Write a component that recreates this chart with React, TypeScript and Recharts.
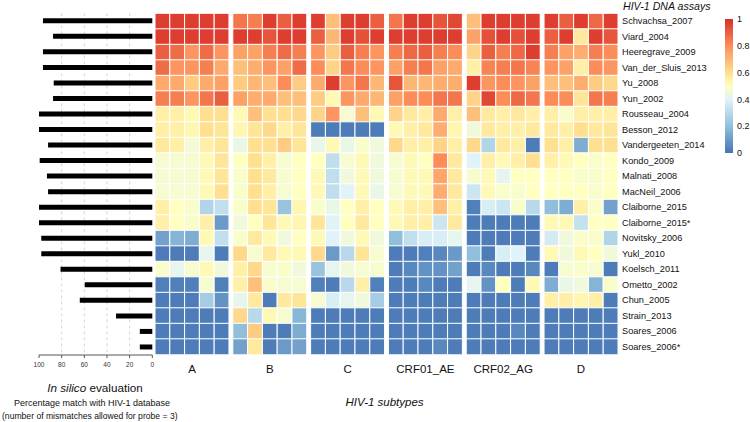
import React from 'react';
import { BarChart, Bar, XAxis, YAxis, CartesianGrid, Cell } from 'recharts';

const assays = [
  'Schvachsa_2007', 'Viard_2004', 'Heeregrave_2009', 'Van_der_Sluis_2013', 'Yu_2008', 'Yun_2002',
  'Rousseau_2004', 'Besson_2012', 'Vandergeeten_2014', 'Kondo_2009', 'Malnati_2008', 'MacNeil_2006',
  'Claiborne_2015', 'Claiborne_2015*', 'Novitsky_2006', 'Yukl_2010', 'Koelsch_2011', 'Ometto_2002',
  'Chun_2005', 'Strain_2013', 'Soares_2006', 'Soares_2006*',
];

const silicoMatch = [96.5, 87.6, 96.5, 96.5, 87, 87.6, 100, 100, 92, 99.4, 93, 92, 100, 100, 98, 98, 81, 59.6, 64, 32, 11, 11];
const silicoTicks = [0, 20, 40, 60, 80, 100];
const silicoGrid = [20, 40, 60, 80];

const subtypes = ['A', 'B', 'C', 'CRF01_AE', 'CRF02_AG', 'D'];

const subtypeA = [
  [0.97, 0.97, 0.97, 0.97, 0.97],
  [0.97, 0.97, 0.97, 0.97, 0.97],
  [0.9, 0.87, 0.78, 0.87, 0.78],
  [0.87, 0.78, 0.78, 0.83, 0.73],
  [0.73, 0.73, 0.65, 0.73, 0.75],
  [0.83, 0.83, 0.78, 0.85, 0.9],
  [0.55, 0.55, 0.52, 0.6, 0.6],
  [0.55, 0.55, 0.53, 0.6, 0.58],
  [0.57, 0.55, 0.46, 0.55, 0.58],
  [0.47, 0.47, 0.47, 0.52, 0.58],
  [0.47, 0.47, 0.47, 0.52, 0.58],
  [0.47, 0.47, 0.47, 0.52, 0.6],
  [0.55, 0.5, 0.48, 0.28, 0.32],
  [0.55, 0.5, 0.48, 0.55, 0.1],
  [0.12, 0.17, 0.15, 0.52, 0.32],
  [0.02, 0.02, 0.02, 0.42, 0.02],
  [0.48, 0.42, 0.47, 0.52, 0.45],
  [0.03, 0.03, 0.03, 0.47, 0.03],
  [0.02, 0.02, 0.02, 0.25, 0.08],
  [0.02, 0.02, 0.02, 0.02, 0.02],
  [0.02, 0.02, 0.02, 0.02, 0.02],
  [0.02, 0.02, 0.02, 0.02, 0.02],
];

const subtypeB = [
  [0.85, 0.83, 0.97, 0.9, 0.97],
  [0.97, 0.97, 0.92, 0.97, 0.97],
  [0.75, 0.75, 0.83, 0.87, 0.83],
  [0.68, 0.72, 0.78, 0.75, 0.87],
  [0.65, 0.7, 0.68, 0.8, 0.65],
  [0.75, 0.72, 0.73, 0.68, 0.68],
  [0.52, 0.68, 0.6, 0.6, 0.62],
  [0.53, 0.58, 0.62, 0.55, 0.58],
  [0.43, 0.6, 0.6, 0.65, 0.58],
  [0.5, 0.6, 0.55, 0.47, 0.5],
  [0.48, 0.6, 0.57, 0.47, 0.5],
  [0.48, 0.6, 0.55, 0.47, 0.5],
  [0.48, 0.6, 0.58, 0.22, 0.53],
  [0.45, 0.5, 0.58, 0.52, 0.53],
  [0.48, 0.57, 0.52, 0.45, 0.5],
  [0.62, 0.47, 0.57, 0.52, 0.52],
  [0.55, 0.62, 0.47, 0.48, 0.45],
  [0.55, 0.68, 0.48, 0.47, 0.47],
  [0.42, 0.57, 0.02, 0.57, 0.58],
  [0.62, 0.3, 0.52, 0.47, 0.18],
  [0.2, 0.65, 0.02, 0.02, 0.15],
  [0.12, 0.57, 0.02, 0.1, 0.12],
];

const subtypeC = [
  [0.97, 0.68, 0.97, 0.97, 0.9],
  [0.9, 0.7, 0.97, 0.93, 0.97],
  [0.78, 0.65, 0.9, 0.83, 0.78],
  [0.8, 0.63, 0.85, 0.8, 0.78],
  [0.73, 0.97, 0.78, 0.85, 0.7],
  [0.65, 0.52, 0.78, 0.73, 0.7],
  [0.63, 0.78, 0.47, 0.68, 0.52],
  [0.02, 0.02, 0.02, 0.02, 0.02],
  [0.43, 0.52, 0.43, 0.48, 0.45],
  [0.5, 0.32, 0.47, 0.52, 0.45],
  [0.52, 0.32, 0.45, 0.52, 0.45],
  [0.52, 0.32, 0.4, 0.52, 0.43],
  [0.48, 0.43, 0.5, 0.55, 0.5],
  [0.58, 0.4, 0.5, 0.57, 0.5],
  [0.52, 0.4, 0.45, 0.52, 0.45],
  [0.62, 0.1, 0.3, 0.58, 0.47],
  [0.22, 0.42, 0.45, 0.47, 0.47],
  [0.03, 0.02, 0.3, 0.55, 0.03],
  [0.47, 0.38, 0.42, 0.45, 0.25],
  [0.02, 0.02, 0.02, 0.02, 0.02],
  [0.02, 0.02, 0.02, 0.02, 0.02],
  [0.02, 0.02, 0.02, 0.02, 0.02],
];

const subtypeAE = [
  [0.85, 0.97, 0.97, 0.92, 0.95],
  [0.97, 0.97, 0.97, 0.97, 0.97],
  [0.83, 0.88, 0.9, 0.83, 0.8],
  [0.75, 0.83, 0.85, 0.75, 0.73],
  [0.92, 0.7, 0.7, 0.72, 0.72],
  [0.75, 0.8, 0.8, 0.85, 0.85],
  [0.63, 0.57, 0.55, 0.73, 0.55],
  [0.52, 0.55, 0.57, 0.72, 0.53],
  [0.62, 0.55, 0.55, 0.63, 0.55],
  [0.47, 0.52, 0.5, 0.8, 0.57],
  [0.47, 0.52, 0.52, 0.74, 0.57],
  [0.47, 0.52, 0.52, 0.72, 0.57],
  [0.52, 0.55, 0.55, 0.68, 0.55],
  [0.52, 0.55, 0.55, 0.35, 0.57],
  [0.2, 0.32, 0.38, 0.38, 0.42],
  [0.02, 0.02, 0.03, 0.05, 0.1],
  [0.02, 0.05, 0.08, 0.08, 0.12],
  [0.02, 0.02, 0.05, 0.02, 0.02],
  [0.02, 0.02, 0.02, 0.02, 0.02],
  [0.02, 0.02, 0.02, 0.02, 0.02],
  [0.02, 0.02, 0.02, 0.02, 0.02],
  [0.02, 0.02, 0.02, 0.05, 0.02],
];

const subtypeAG = [
  [0.68, 0.97, 0.97, 0.97, 0.97],
  [0.75, 0.93, 0.97, 0.93, 0.97],
  [0.63, 0.9, 0.83, 0.88, 0.97],
  [0.55, 0.82, 0.83, 0.85, 0.82],
  [0.97, 0.78, 0.8, 0.78, 0.75],
  [0.63, 0.95, 0.8, 0.88, 0.85],
  [0.68, 0.57, 0.55, 0.57, 0.55],
  [0.45, 0.57, 0.55, 0.55, 0.57],
  [0.62, 0.28, 0.57, 0.55, 0.02],
  [0.4, 0.55, 0.52, 0.55, 0.6],
  [0.47, 0.52, 0.42, 0.5, 0.5],
  [0.35, 0.52, 0.48, 0.48, 0.5],
  [0.03, 0.38, 0.35, 0.48, 0.3],
  [0.02, 0.02, 0.02, 0.02, 0.02],
  [0.02, 0.02, 0.02, 0.02, 0.02],
  [0.2, 0.02, 0.38, 0.4, 0.02],
  [0.02, 0.05, 0.02, 0.02, 0.05],
  [0.42, 0.08, 0.5, 0.02, 0.52],
  [0.02, 0.02, 0.02, 0.02, 0.02],
  [0.02, 0.02, 0.02, 0.02, 0.02],
  [0.02, 0.02, 0.02, 0.05, 0.02],
  [0.02, 0.02, 0.02, 0.02, 0.02],
];

const subtypeD = [
  [0.97, 0.9, 0.97, 0.88, 0.97],
  [0.9, 0.97, 0.57, 0.97, 0.92],
  [0.83, 0.75, 0.72, 0.83, 0.8],
  [0.78, 0.75, 0.55, 0.8, 0.78],
  [0.68, 0.68, 0.72, 0.65, 0.62],
  [0.8, 0.8, 0.58, 0.85, 0.83],
  [0.55, 0.48, 0.55, 0.55, 0.55],
  [0.57, 0.55, 0.6, 0.57, 0.58],
  [0.6, 0.55, 0.15, 0.6, 0.6],
  [0.55, 0.52, 0.5, 0.48, 0.5],
  [0.5, 0.5, 0.48, 0.48, 0.5],
  [0.5, 0.5, 0.5, 0.48, 0.5],
  [0.2, 0.15, 0.55, 0.48, 0.12],
  [0.52, 0.52, 0.33, 0.5, 0.5],
  [0.37, 0.45, 0.48, 0.48, 0.28],
  [0.52, 0.45, 0.52, 0.5, 0.45],
  [0.02, 0.47, 0.48, 0.47, 0.02],
  [0.15, 0.43, 0.45, 0.17, 0.48],
  [0.55, 0.55, 0.53, 0.55, 0.02],
  [0.02, 0.02, 0.02, 0.02, 0.02],
  [0.02, 0.02, 0.02, 0.02, 0.02],
  [0.02, 0.02, 0.02, 0.02, 0.02],
];

const colorbarTicks = [0, 0.2, 0.4, 0.6, 0.8, 1];

const groups = [subtypeA, subtypeB, subtypeC, subtypeAE, subtypeAG, subtypeD];

const STOPS: [number, string][] = [
  [0, '#4575b4'],
  [0.2, '#91bfdb'],
  [0.4, '#e0f3f8'],
  [0.5, '#ffffbf'],
  [0.6, '#fee090'],
  [0.8, '#fc8d59'],
  [1, '#d73027'],
];

function hexToRgb(h: string) {
  return [parseInt(h.slice(1, 3), 16), parseInt(h.slice(3, 5), 16), parseInt(h.slice(5, 7), 16)];
}

function colorFor(v: number) {
  const x = Math.max(0, Math.min(1, v));
  for (let i = 0; i < STOPS.length - 1; i++) {
    const [a, ca] = STOPS[i];
    const [b, cb] = STOPS[i + 1];
    if (x >= a && x <= b) {
      const t = (x - a) / (b - a);
      const A = hexToRgb(ca);
      const B = hexToRgb(cb);
      const c = A.map((q, j) => Math.round(q + (B[j] - q) * t));
      return `rgb(${c[0]},${c[1]},${c[2]})`;
    }
  }
  return STOPS[STOPS.length - 1][1];
}

const GAP = 0.26;
const COLS = 5;
const TOTAL = groups.length * COLS + (groups.length - 1) * GAP;
const groupCenters = groups.map((_, gi) => gi * (COLS + GAP) + COLS / 2);

const heatRows = assays.map((name, i) => {
  const row: Record<string, any> = { name };
  groups.forEach((g, gi) => {
    g[i].forEach((_, k) => {
      row[`c${gi}_${k}`] = 1;
    });
    if (gi < groups.length - 1) row[`gap${gi}`] = GAP;
  });
  return row;
});

const silicoRows = assays.map((name, i) => ({ name, match: silicoMatch[i] }));
const colorbarRows = [{ k: 'scale', v: 1 }];

const FONT = '"Liberation Sans", Arial, Helvetica, sans-serif';

export default function App() {
  const bars: React.ReactNode[] = [];
  groups.forEach((g, gi) => {
    for (let k = 0; k < COLS; k++) {
      bars.push(
        <Bar
          key={`c${gi}_${k}`}
          dataKey={`c${gi}_${k}`}
          stackId="h"
          isAnimationActive={false}
          stroke="#ffffff"
          strokeWidth={1}
        >
          {assays.map((_, i) => (
            <Cell key={i} fill={colorFor(g[i][k])} />
          ))}
        </Bar>
      );
    }
    if (gi < groups.length - 1) {
      bars.push(
        <Bar key={`gap${gi}`} dataKey={`gap${gi}`} stackId="h" isAnimationActive={false} fill="none" stroke="none" />
      );
    }
  });

  return (
    <div style={{ position: 'absolute', left: 0, top: 0, width: 750, height: 422, background: '#fff', fontFamily: FONT }}>
      <svg width={0} height={0} style={{ position: 'absolute' }}>
        <defs>
          <linearGradient id="cbGrad" x1="0" y1="1" x2="0" y2="0">
            {STOPS.map(([o, c]) => (
              <stop key={o} offset={`${o * 100}%`} stopColor={c} />
            ))}
          </linearGradient>
        </defs>
      </svg>

      {/* In silico bars */}
      <div style={{ position: 'absolute', left: 0, top: 0 }}>
        <BarChart
          width={160}
          height={422}
          layout="vertical"
          data={silicoRows}
          margin={{ top: 13.3, right: 7.7, left: 39, bottom: 47 }}
          barCategoryGap={0}
        >
          <CartesianGrid horizontal={false} vertical strokeDasharray="3 3" stroke="#d4d4d4" verticalValues={silicoGrid} />
          <XAxis
            type="number"
            domain={[0, 100]}
            reversed
            ticks={silicoTicks}
            interval={0}
            height={20}
            tickSize={3}
            tickMargin={4}
            tick={{ fontSize: 6.5, fill: '#333', fontFamily: FONT }}
            axisLine={{ stroke: '#555' }}
            tickLine={{ stroke: '#555' }}
          />
          <YAxis type="category" dataKey="name" hide />
          <Bar dataKey="match" fill="#000" barSize={5} isAnimationActive={false} />
        </BarChart>
      </div>

      {/* Heatmap */}
      <div style={{ position: 'absolute', left: 0, top: 0 }}>
        <BarChart
          width={750}
          height={422}
          layout="vertical"
          data={heatRows}
          margin={{ top: 13.3, right: 12, left: 155, bottom: 37.7 }}
          barCategoryGap={0}
          barGap={0}
        >
          <XAxis
            type="number"
            domain={[0, TOTAL]}
            ticks={groupCenters}
            interval={0}
            height={30}
            tickFormatter={(_v: number, i: number) => subtypes[i]}
            tickSize={0}
            tickMargin={10.5}
            axisLine={false}
            tickLine={false}
            tick={{ fontSize: 11.5, fill: '#111', fontFamily: FONT }}
          />
          <YAxis
            type="category"
            dataKey="name"
            orientation="right"
            width={120}
            interval={0}
            tickSize={0}
            tickMargin={4}
            axisLine={false}
            tickLine={false}
            tick={{ fontSize: 9.2, fill: '#111', fontFamily: FONT }}
          />
          {bars}
        </BarChart>
      </div>

      {/* Colour bar */}
      <div style={{ position: 'absolute', left: 715, top: 0 }}>
        <BarChart
          width={50}
          height={422}
          data={colorbarRows}
          margin={{ top: 19, right: 0, left: 10, bottom: 269 }}
          barCategoryGap={0}
        >
          <XAxis dataKey="k" hide />
          <YAxis
            orientation="right"
            type="number"
            domain={[0, 1]}
            ticks={colorbarTicks}
            interval={0}
            width={32}
            tickSize={0}
            tickMargin={4}
            axisLine={false}
            tickLine={false}
            tick={{ fontSize: 9, fill: '#111', fontFamily: FONT }}
          />
          <Bar dataKey="v" fill="url(#cbGrad)" isAnimationActive={false} />
        </BarChart>
      </div>

      {/* Text annotations */}
      <svg width={750} height={422} style={{ position: 'absolute', left: 0, top: 0, pointerEvents: 'none' }}>
        <text x={623} y={9.5} fontSize={10.6} fontStyle="italic" fill="#111" fontFamily={FONT}>
          HIV-1 DNA assays
        </text>
        <text x={384.5} y={405.5} fontSize={11.5} fontStyle="italic" fill="#111" textAnchor="middle" fontFamily={FONT}>
          HIV-1 subtypes
        </text>
        <text x={95} y={392} fontSize={11.7} fill="#111" textAnchor="middle" fontFamily={FONT}>
          <tspan fontStyle="italic">In silico</tspan> evaluation
        </text>
        <text x={92} y={406} fontSize={9} fill="#111" textAnchor="middle" fontFamily={FONT}>
          Percentage match with HIV-1 database
        </text>
        <text x={2} y={419} fontSize={8.6} fill="#111" textAnchor="start" fontFamily={FONT}>
          (number of mismatches allowed for probe = 3)
        </text>
      </svg>
    </div>
  );
}
